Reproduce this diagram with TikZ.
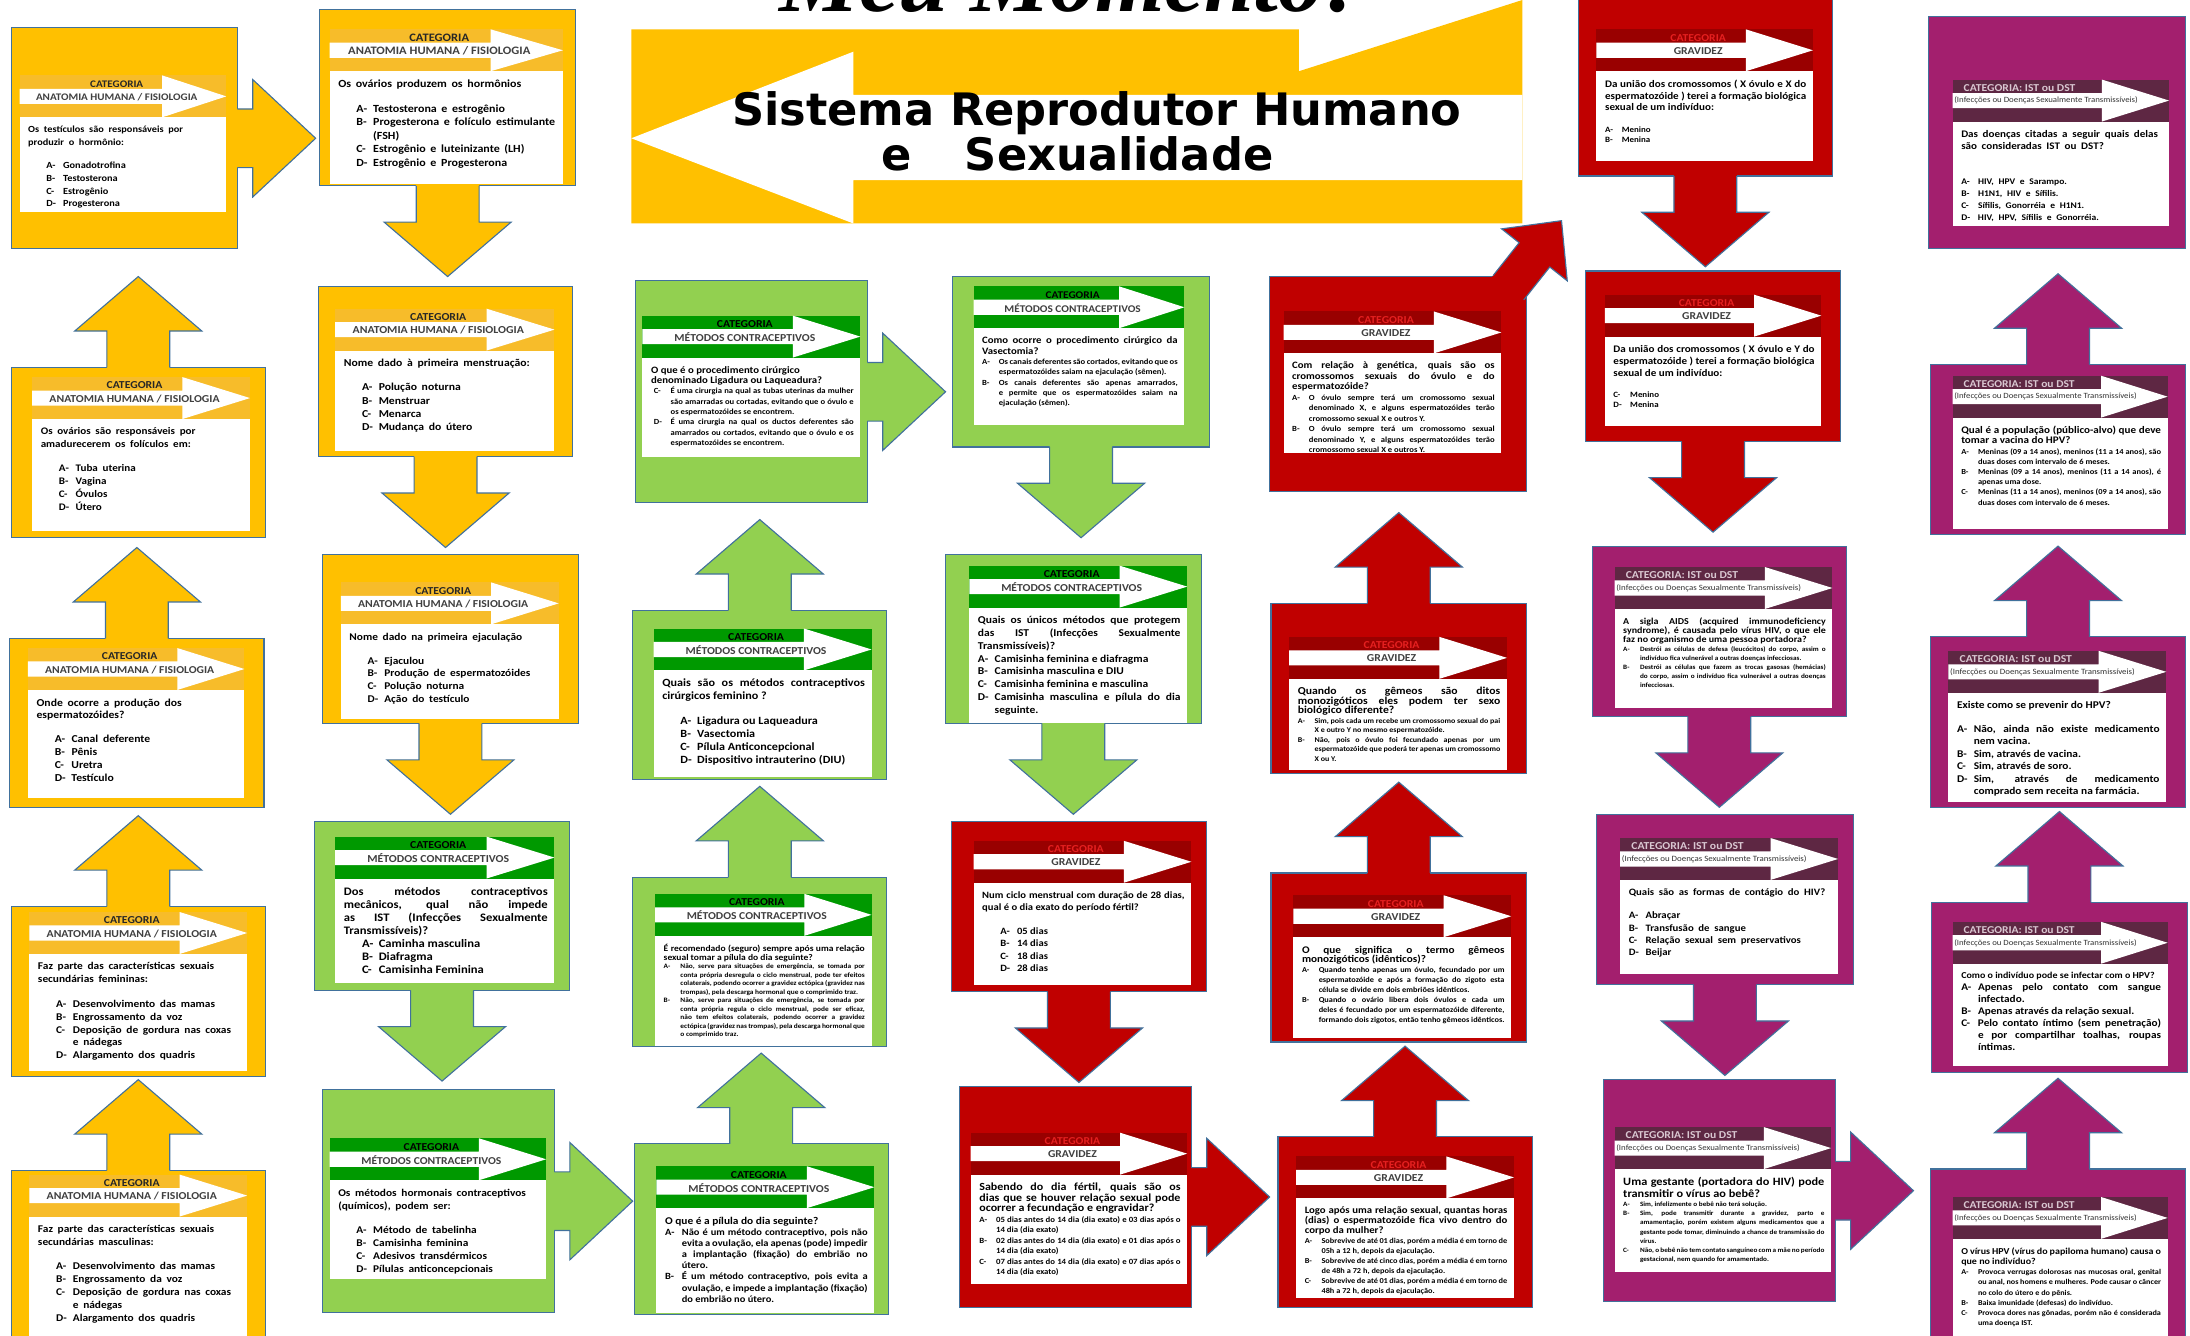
\documentclass[tikz,border=0pt]{standalone}
\usepackage{fontspec}
\setmainfont{Carlito}[FakeStretch=1.1]
\newfontfamily\titulofonte{DejaVu Sans}
\newfontfamily\momentofonte{Liberation Serif}
\usetikzlibrary{calc}

\definecolor{amarelo}{HTML}{FFC000}
\definecolor{amareloF}{HTML}{F7BC2A}
\definecolor{verde}{HTML}{92D050}
\definecolor{verdeF}{HTML}{009900}
\definecolor{vermelho}{HTML}{C00000}
\definecolor{vermelhoF}{HTML}{990000}
\definecolor{vermelhoT}{HTML}{E62020}
\definecolor{roxo}{HTML}{A31F6E}
\definecolor{roxoF}{HTML}{5E2743}
\definecolor{roxoT}{HTML}{D9C7D1}
\definecolor{azulc}{HTML}{41719C}

\hyphenpenalty=10000
\exhyphenpenalty=10000
\tolerance=9999
\emergencystretch=2em

\newlength\recuo
\setlength\recuo{13pt}
\newcommand{\tam}[2]{\fontsize{#1}{#2}\selectfont}
\newcommand{\vazio}{\par\vspace{8pt}}
\newcommand{\op}[2]{\par\hangindent=\dimexpr\recuo+12pt\relax\hangafter=1
  \noindent\hspace*{\recuo}\makebox[12pt][l]{#1}#2}

\tikzset{
  contorno/.style={draw=azulc, line width=0.8pt},
  caixa/.style={contorno, anchor=north west, inner sep=0pt, outer sep=0pt},
  caixa am/.style={caixa, fill=amarelo},
  caixa vd/.style={caixa, fill=verde},
  caixa vm/.style={caixa, fill=vermelho},
  caixa rx/.style={caixa, fill=roxo},
  faixa am/.style={fill=amareloF},
  faixa vd/.style={fill=verdeF},
  faixa vm/.style={fill=vermelhoF},
  faixa rx/.style={fill=roxoF},
  painel/.style={fill=white, anchor=north west, inner sep=0pt, outer sep=0pt},
  rotulo/.style={inner sep=0pt, font=\bfseries\tam{\tamcat}{\tamcat}},
  texto/.style={anchor=north west, inner sep=0pt, font=\bfseries},
  titulo/.style={inner sep=0pt, font=\titulofonte\bfseries\fontsize{32}{32}\selectfont}
}

\newcommand{\seta}[6]{%
  \coordinate (sa) at (#2);
  \coordinate (st) at (#3);
  \coordinate (sh) at ($(sa)!#4!(st)$);
  \coordinate (sb) at ($(sa)!-1.5pt!(st)$);
  \fill[#1] ($(sb)!#5!90:(st)$) -- ($(sh)!#5!90:(st)$) -- ($(sh)!#6!90:(st)$) -- (st)
    -- ($(sh)!#6!-90:(st)$) -- ($(sh)!#5!-90:(st)$) -- ($(sb)!#5!-90:(st)$) -- cycle;
  \draw[contorno] ($(sa)!#5!90:(st)$) -- ($(sh)!#5!90:(st)$) -- ($(sh)!#6!90:(st)$) -- (st)
    -- ($(sh)!#6!-90:(st)$) -- ($(sh)!#5!-90:(st)$) -- ($(sa)!#5!-90:(st)$);
}
\newcommand{\setacima}[3]{\seta{#1}{#2.north}{$(#2.north)!65pt!(#2.north |- #3.south)$}{26pt}{22.5pt}{45.5pt}}
\newcommand{\setabaixo}[3]{\seta{#1}{#2.south}{$(#2.south)!65pt!(#2.south |- #3.north)$}{26pt}{22.5pt}{45.5pt}}
\newcommand{\setadireita}[3]{\seta{#1}{#2.east}{$(#2.east)!56pt!(#2.east -| #3.west)$}{11pt}{21pt}{42pt}}

\newcommand{\rotuloam}[1]{%
  \node[rotulo, text=black!85] at ($(#1.north west)!0.47!(#1.north east)+(0,6)$) {CATEGORIA};
  \node[rotulo, text=black!75] at ($(#1.north west)!0.47!(#1.north east)+(0,15.5)$) {ANATOMIA HUMANA / FISIOLOGIA};}
\newcommand{\rotulovd}[1]{%
  \node[rotulo, text=black] at ($(#1.north west)!0.47!(#1.north east)+(0,6)$) {CATEGORIA};
  \node[rotulo, text=black!75] at ($(#1.north west)!0.47!(#1.north east)+(0,15.5)$) {MÉTODOS CONTRACEPTIVOS};}
\newcommand{\rotulovm}[1]{%
  \node[rotulo, text=vermelhoT] at ($(#1.north west)!0.47!(#1.north east)+(0,6)$) {CATEGORIA};
  \node[rotulo, text=black!75] at ($(#1.north west)!0.47!(#1.north east)+(0,15.5)$) {GRAVIDEZ};}
\newcommand{\rotulorx}[1]{%
  \pgfmathsetmacro\tamsub{\tamcat*0.76}%
  \node[rotulo, text=roxoT, anchor=west] at ($(#1.north west)!0.05!(#1.north east)+(0,6)$) {CATEGORIA: IST ou DST};
  \node[rotulo, text=black!80, anchor=west, font=\mdseries\tam{\tamsub}{\tamsub}] at ($(#1.north west)+(1,15)$) {(Infecções ou Doenças Sexualmente Transmissíveis)};}

\newcommand{\cartao}[8]{%
  \pgfmathsetmacro\tamcat{#5/20.5}%
  \pgfmathsetmacro\largtexto{#5-11}%
  \node[painel, minimum width=#5, minimum height=#6] (#1-p) at (#3,#4) {};
  \fill[faixa #2] (#1-p.north west) rectangle ($(#1-p.north east)+(0,30)$);
  \fill[white] ($(#1-p.north west)+(0,9.6)$)
    -- ($(#1-p.north west)!0.69!(#1-p.north east)+(0,9.6)$)
    -- ($(#1-p.north west)!0.69!(#1-p.north east)$)
    -- ($(#1-p.north east)+(0,15)$)
    -- ($(#1-p.north west)!0.69!(#1-p.north east)+(0,30)$)
    -- ($(#1-p.north west)!0.69!(#1-p.north east)+(0,20.4)$)
    -- ($(#1-p.north west)+(0,20.4)$) -- cycle;
  \csname rotulo#2\endcsname{#1-p}
  \node[texto, text width=\largtexto pt, align=#7] (#1-t) at ($(#1-p.north west)+(6,36)$) {#8\par};
}

\begin{document}
\begin{tikzpicture}[x=1pt, y=-1pt]
\useasboundingbox (0,0) rectangle (1568,956);
\fill[white] (0,0) rectangle (1568,956);

\node[anchor=base west, inner sep=0pt, font=\momentofonte\bfseries\itshape\fontsize{64}{64}\selectfont] (momento) at (558,8) {Meu Momento!};
\fill[amarelo] (452,21) -- (930,21) -- (930,51) -- (1090,0) -- (1090,160) -- (452,160) -- cycle;
\fill[white] (452,99) -- (611,37) -- (611,68) -- (1090,68) -- (1090,129) -- (611,129) -- (611,160) -- cycle;
\node[titulo, anchor=base west] (tit1) at (524,90) {Sistema Reprodutor Humano};
\node[titulo, anchor=base west] (tit2) at (631,122) {e\hspace{38pt}Sexualidade};

\foreach \nome/\cor/\x/\y/\w/\h in {
  an1/am/8/838/182/132, an2/am/8/649/182/122, an3/am/7/457/182/121, an4/am/8/263/182/122,
  an5/am/8/20/162/158, an6/am/229/7/183/126, an7/am/228/205/182/122, an8/am/231/397/183/121,
  mc1/vd/225/588/183/121, mc2/vd/231/780/166/160, mc3/vd/454/819/182/122, mc4/vd/453/628/182/121,
  mc5/vd/453/437/182/121, mc6/vd/455/201/166/159, mc7/vd/682/198/184/122, mc8/vd/677/397/183/121,
  gr1/vm/681/588/183/122, gr2/vm/687/778/166/158, gr3/vm/915/814/182/122, gr4/vm/910/625/183/121,
  gr5/vm/910/432/183/122, gr6/vm/909/198/184/154, gr7/vm/1130/-2/182/128, gr8/vm/1135/194/183/122,
  ist1/rx/1140/391/182/122, ist2/rx/1143/583/184/122, ist3/rx/1148/773/166/159, ist4/rx/1382/837/183/132,
  ist5/rx/1383/646/183/122, ist6/rx/1382/456/183/122, ist7/rx/1382/261/183/122, ist8/rx/1381/12/184/166}
  \node[caixa \cor, minimum width=\w, minimum height=\h] (\nome) at (\x,\y) {};

\setacima{amarelo}{an1}{an2}
\setacima{amarelo}{an2}{an3}
\setacima{amarelo}{an3}{an4}
\setacima{amarelo}{an4}{an5}
\setadireita{amarelo}{an5}{an6}
\setabaixo{amarelo}{an6}{an7}
\setabaixo{amarelo}{an7}{an8}
\setabaixo{amarelo}{an8}{mc1}
\setabaixo{verde}{mc1}{mc2}
\setadireita{verde}{mc2}{mc3}
\setacima{verde}{mc3}{mc4}
\setacima{verde}{mc4}{mc5}
\setacima{verde}{mc5}{mc6}
\setadireita{verde}{mc6}{mc7}
\setabaixo{verde}{mc7}{mc8}
\setabaixo{verde}{mc8}{gr1}
\setabaixo{vermelho}{gr1}{gr2}
\setadireita{vermelho}{gr2}{gr3}
\setacima{vermelho}{gr3}{gr4}
\setacima{vermelho}{gr4}{gr5}
\setacima{vermelho}{gr5}{gr6}
\seta{vermelho}{$(gr6.north east)+(-13,8)$}{$(gr6.north east)+(25,-40)$}{30pt}{14pt}{30pt}
\setabaixo{vermelho}{gr7}{gr8}
\setabaixo{vermelho}{gr8}{ist1}
\setabaixo{roxo}{ist1}{ist2}
\setabaixo{roxo}{ist2}{ist3}
\setadireita{roxo}{ist3}{ist4}
\setacima{roxo}{ist4}{ist5}
\setacima{roxo}{ist5}{ist6}
\setacima{roxo}{ist6}{ist7}
\setacima{roxo}{ist7}{ist8}

\cartao{an1}{am}{21}{841}{156}{125}{left}{\tam{7.4}{9.3}Faz parte das características sexuais secundárias masculinas:\vazio
  \op{A-}{Desenvolvimento das mamas}\op{B-}{Engrossamento da voz}\op{C-}{Deposição de gordura nas coxas e nádegas}\op{D-}{Alargamento dos quadris}}
\cartao{an2}{am}{21}{653}{156}{114}{left}{\tam{7.4}{9.3}Faz parte das características sexuais secundárias femininas:\vazio
  \op{A-}{Desenvolvimento das mamas}\op{B-}{Engrossamento da voz}\op{C-}{Deposição de gordura nas coxas e nádegas}\op{D-}{Alargamento dos quadris}}
\cartao{an3}{am}{20}{464}{155}{107}{left}{\tam{7.6}{9.2}Onde ocorre a produção dos espermatozóides?\vazio
  \op{A-}{Canal deferente}\op{B-}{Pênis}\op{C-}{Uretra}\op{D-}{Testículo}}
\cartao{an4}{am}{23}{270}{156}{110}{left}{\tam{7.2}{9.2}Os ovários são responsáveis por amadurecerem os folículos em:\vazio
  \op{A-}{Tuba uterina}\op{B-}{Vagina}\op{C-}{Óvulos}\op{D-}{Útero}}
\cartao{an5}{am}{14}{54}{148}{98}{left}{\tam{6.7}{9}Os testículos são responsáveis por produzir o hormônio:\vazio
  \op{A-}{Gonadotrofina}\op{B-}{Testosterona}\op{C-}{Estrogênio}\op{D-}{Progesterona}}
\cartao{an6}{am}{236}{21}{167}{111}{left}{\tam{7.8}{9.7}Os ovários produzem os hormônios\vazio
  \op{A-}{Testosterona e estrogênio}\op{B-}{Progesterona e folículo estimulante (FSH)}\op{C-}{Estrogênio e luteinizante (LH)}\op{D-}{Estrogênio e Progesterona}}
\cartao{an7}{am}{240}{221}{157}{102}{left}{\tam{7.6}{9.4}Nome dado à primeira menstruação:\vazio
  \op{A-}{Polução noturna}\op{B-}{Menstruar}\op{C-}{Menarca}\op{D-}{Mudança do útero}}
\cartao{an8}{am}{244}{417}{156}{98}{left}{\tam{7.4}{9.1}Nome dado na primeira ejaculação\vazio
  \op{A-}{Ejaculou}\op{B-}{Produção de espermatozóides}\op{C-}{Polução noturna}\op{D-}{Ação do testículo}}

\cartao{mc1}{vd}{240}{599}{157}{105}{justify}{\tam{8.2}{9.3}Dos métodos contraceptivos mecânicos, qual não impede as IST (Infecções Sexualmente Transmissíveis)?
  \op{A-}{Caminha masculina}\op{B-}{Diafragma}\op{C-}{Camisinha Feminina}}
\cartao{mc2}{vd}{236}{815}{155}{101}{left}{\tam{7.4}{9.4}Os métodos hormonais contraceptivos (químicos), podem ser:\vazio
  \op{A-}{Método de tabelinha}\op{B-}{Camisinha feminina}\op{C-}{Adesivos transdérmicos}\op{D-}{Pílulas anticoncepcionais}}
\cartao{mc3}{vd}{470}{835}{156}{105}{justify}{\recuo=0pt\tam{7.4}{8.6}O que é a pílula do dia seguinte?\tam{6.8}{8}
  \op{A-}{Não é um método contraceptivo, pois não evita a ovulação, ela apenas (pode) impedir a implantação (fixação) do embrião no útero.}
  \op{B-}{É um método contraceptivo, pois evita a ovulação, e impede a implantação (fixação) do embrião no útero.}}
\cartao{mc4}{vd}{469}{640}{155}{109}{justify}{\recuo=0pt\tam{6.2}{7.6}É recomendado (seguro) sempre após uma relação sexual tomar a pílula do dia seguinte?\tam{4.8}{6.1}
  \op{A-}{Não, serve para situações de emergência, se tomada por conta própria desregula o ciclo menstrual, pode ter efeitos colaterais, podendo ocorrer a gravidez ectópica (gravidez nas trompas), pela descarga hormonal que o comprimido traz.}
  \op{B-}{Não, serve para situações de emergência, se tomada por conta própria regula o ciclo menstrual, pode ser eficaz, não tem efeitos colaterais, podendo ocorrer a gravidez ectópica (gravidez nas trompas), pela descarga hormonal que o comprimido traz.}}
\cartao{mc5}{vd}{468}{450}{156}{106}{justify}{\tam{7.9}{9.4}Quais são os métodos contraceptivos cirúrgicos feminino ?\vazio
  \op{A-}{Ligadura ou Laqueadura}\op{B-}{Vasectomia}\op{C-}{Pílula Anticoncepcional}\op{D-}{Dispositivo intrauterino (DIU)}}
\cartao{mc6}{vd}{460}{226}{156}{101}{justify}{\recuo=2pt\tam{7}{8.8}O que é o procedimento cirúrgico\\denominado Ligadura ou Laqueadura?\tam{5.6}{7.4}
  \op{C-}{É uma cirurgia na qual as tubas uterinas da mulher são amarradas ou cortadas, evitando que o óvulo e os espermatozóides se encontrem.}
  \op{D-}{É uma cirurgia na qual os ductos deferentes são amarrados ou cortados, evitando que o óvulo e os espermatozóides se encontrem.}}
\cartao{mc7}{vd}{697}{205}{151}{99}{justify}{\recuo=0pt\tam{7}{8.6}Como ocorre o procedimento cirúrgico da Vasectomia?\tam{5.6}{7.4}
  \op{A-}{Os canais deferentes são cortados, evitando que os espermatozóides saiam na ejaculação (sêmen).}
  \op{B-}{Os canais deferentes são apenas amarrados, e permite que os espermatozóides saiam na ejaculação (sêmen).}}
\cartao{mc8}{vd}{694}{405}{156}{113}{justify}{\recuo=0pt\tam{7.5}{9.2}Quais os únicos métodos que protegem das IST (Infecções Sexualmente Transmissíveis)?
  \op{A-}{Camisinha feminina e diafragma}\op{B-}{Camisinha masculina e DIU}\op{C-}{Camisinha feminina e masculina}\op{D-}{Camisinha masculina e pílula do dia seguinte.}}

\cartao{gr1}{vm}{697}{602}{156}{103}{justify}{\tam{6.9}{8.9}Num ciclo menstrual com duração de 28 dias, qual é o dia exato do período fértil?\vazio
  \op{A-}{05 dias}\op{B-}{14 dias}\op{C-}{18 dias}\op{D-}{28 dias}}
\cartao{gr2}{vm}{695}{811}{155}{108}{justify}{\recuo=0pt\tam{7.8}{9.3}Sabendo do dia fértil, quais são os dias que se houver relação sexual pode ocorrer a fecundação e engravidar?\tam{5.7}{7.5}
  \op{A-}{05 dias antes do 14 dia (dia exato) e 03 dias após o 14 dia (dia exato)}
  \op{B-}{02 dias antes do 14 dia (dia exato) e 01 dias após o 14 dia (dia exato)}
  \op{C-}{07 dias antes do 14 dia (dia exato) e 07 dias após o 14 dia (dia exato)}}
\cartao{gr3}{vm}{928}{828}{156}{101}{justify}{\recuo=0pt\tam{7}{8.7}Logo após uma relação sexual, quantas horas (dias) o espermatozóide fica vivo dentro do corpo da mulher?\tam{5.4}{7.1}
  \op{A-}{Sobrevive de até 01 dias, porém a média é em torno de 05h a 12 h, depois da ejaculação.}
  \op{B-}{Sobrevive de até cinco dias, porém a média é em torno de 48h a 72 h, depois da ejaculação.}
  \op{C-}{Sobrevive de até 01 dias, porém a média é em torno de 48h a 72 h, depois da ejaculação.}}
\cartao{gr4}{vm}{926}{641}{156}{102}{justify}{\recuo=0pt\tam{7.3}{8.4}O que significa o termo gêmeos monozigóticos (idênticos)?\tam{5.4}{7.1}
  \op{A-}{Quando tenho apenas um óvulo, fecundado por um espermatozóide e após a formação do zigoto esta célula se divide em dois embriões idênticos.}
  \op{B-}{Quando o ovário libera dois óvulos e cada um deles é fecundado por um espermatozóide diferente, formando dois zigotos, então tenho gêmeos idênticos.}}
\cartao{gr5}{vm}{923}{456}{156}{95}{justify}{\recuo=0pt\tam{7.6}{8.7}Quando os gêmeos são ditos monozigóticos eles podem ter sexo biológico diferente?\tam{5.2}{6.8}
  \op{A-}{Sim, pois cada um recebe um cromossomo sexual do pai X e outro Y no mesmo espermatozóide.}
  \op{B-}{Não, pois o óvulo foi fecundado apenas por um espermatozóide que poderá ter apenas um cromossomo X ou Y.}}
\cartao{gr6}{vm}{919}{223}{156}{101}{justify}{\recuo=0pt\tam{7}{8.8}Com relação à genética, quais são os cromossomos sexuais do óvulo e do espermatozóide?\tam{5.6}{7.5}
  \op{A-}{O óvulo sempre terá um cromossomo sexual denominado X, e alguns espermatozóides terão cromossomo sexual X e outros Y.}
  \op{B-}{O óvulo sempre terá um cromossomo sexual denominado Y, e alguns espermatozóides terão cromossomo sexual X e outros Y.}}
\cartao{gr7}{vm}{1143}{21}{155}{94}{justify}{\recuo=0pt\tam{7.2}{8.4}Da união dos cromossomos ( X óvulo e X do espermatozóide ) terei a formação biológica sexual de um indivíduo:\vazio\tam{5.8}{7.4}
  \op{A-}{Menino}\op{B-}{Menina}}
\cartao{gr8}{vm}{1149}{211}{155}{94}{justify}{\recuo=0pt\tam{7.2}{8.5}Da união dos cromossomos ( X óvulo e Y do espermatozóide ) terei a formação biológica sexual de um indivíduo:\vazio\tam{5.8}{7.2}
  \op{C-}{Menino}\op{D-}{Menina}}

\cartao{ist1}{rx}{1156}{406}{156}{101}{justify}{\recuo=0pt\tam{6.5}{8.1}A sigla AIDS (acquired immunodeficiency syndrome), é causada pelo vírus HIV, o que ele faz no organismo de uma pessoa portadora?\tam{4.7}{6.5}
  \op{A-}{Destrói as células de defesa (leucócitos) do corpo, assim o indivíduo fica vulnerável a outras doenças infecciosas.}
  \op{B-}{Destrói as células que fazem as trocas gasosas (hemácias) do corpo, assim o indivíduo fica vulnerável a outras doenças infecciosas.}}
\cartao{ist2}{rx}{1160}{600}{156}{97}{left}{\recuo=0pt\tam{7}{8.8}Quais são as formas de contágio do HIV?\vazio
  \op{A-}{Abraçar}\op{B-}{Transfusão de sangue}\op{C-}{Relação sexual sem preservativos}\op{D-}{Beijar}}
\cartao{ist3}{rx}{1156}{807}{155}{104}{justify}{\recuo=0pt\tam{8}{10.2}Uma gestante (portadora do HIV) pode transmitir o vírus ao bebê?\tam{4.7}{6.6}
  \op{A-}{Sim, infelizmente o bebê não terá solução.}
  \op{B-}{Sim, pode transmitir durante a gravidez, parto e amamentação, porém existem alguns medicamentos que a gestante pode tomar, diminuindo a chance de transmissão do vírus.}
  \op{C-}{Não, o bebê não tem contato sanguíneo com a mãe no período gestacional, nem quando for amamentado.}}
\cartao{ist4}{rx}{1398}{857}{154}{110}{justify}{\recuo=0pt\tam{6.5}{7.9}O vírus HPV (vírus do papiloma humano) causa o que no indivíduo?\tam{5.3}{7.3}
  \op{A-}{Provoca verrugas dolorosas nas mucosas oral, genital ou anal, nos homens e mulheres. Pode causar o câncer no colo do útero e do pênis.}
  \op{B-}{Baixa imunidade (defesas) do indivíduo.}
  \op{C-}{Provoca dores nas gônadas, porém não é considerada uma doença IST.}}
\cartao{ist5}{rx}{1398}{660}{154}{103}{justify}{\recuo=0pt\tam{6.5}{7.4}Como o indivíduo pode se infectar com o HPV?\tam{7.3}{8.6}
  \op{A-}{Apenas pelo contato com sangue infectado.}
  \op{B-}{Apenas através da relação sexual.}
  \op{C-}{Pelo contato íntimo (sem penetração) e por compartilhar toalhas, roupas íntimas.}}
\cartao{ist6}{rx}{1395}{466}{156}{108}{justify}{\recuo=0pt\tam{7.4}{8.9}Existe como se prevenir do HPV?\vazio
  \op{A-}{Não, ainda não existe medicamento nem vacina.}\op{B-}{Sim, através de vacina.}\op{C-}{Sim, através de soro.}
  \op{D-}{Sim, através de medicamento comprado sem receita na farmácia.}}
\cartao{ist7}{rx}{1398}{269}{154}{110}{justify}{\recuo=0pt\tam{7.2}{8.8}Qual é a população (público-alvo) que deve tomar a vacina do HPV?\tam{5.5}{7.3}
  \op{A-}{Meninas (09 a 14 anos), meninos (11 a 14 anos), são duas doses com intervalo de 6 meses.}
  \op{B-}{Meninas (09 a 14 anos), meninos (11 a 14 anos), é apenas uma dose.}
  \op{C-}{Meninas (11 a 14 anos), meninos (09 a 14 anos), são duas doses com intervalo de 6 meses.}}
\cartao{ist8}{rx}{1398}{57}{155}{105}{left}{\recuo=0pt\tam{7.2}{8.8}Das doenças citadas a seguir quais delas são consideradas IST ou DST?\par\vspace{17pt}\tam{6.2}{8.4}
  \op{A-}{HIV, HPV e Sarampo.}\op{B-}{H1N1, HIV e Sífilis.}\op{C-}{Sífilis, Gonorréia e H1N1.}\op{D-}{HIV, HPV, Sífilis e Gonorréia.}}
\end{tikzpicture}
\end{document}
